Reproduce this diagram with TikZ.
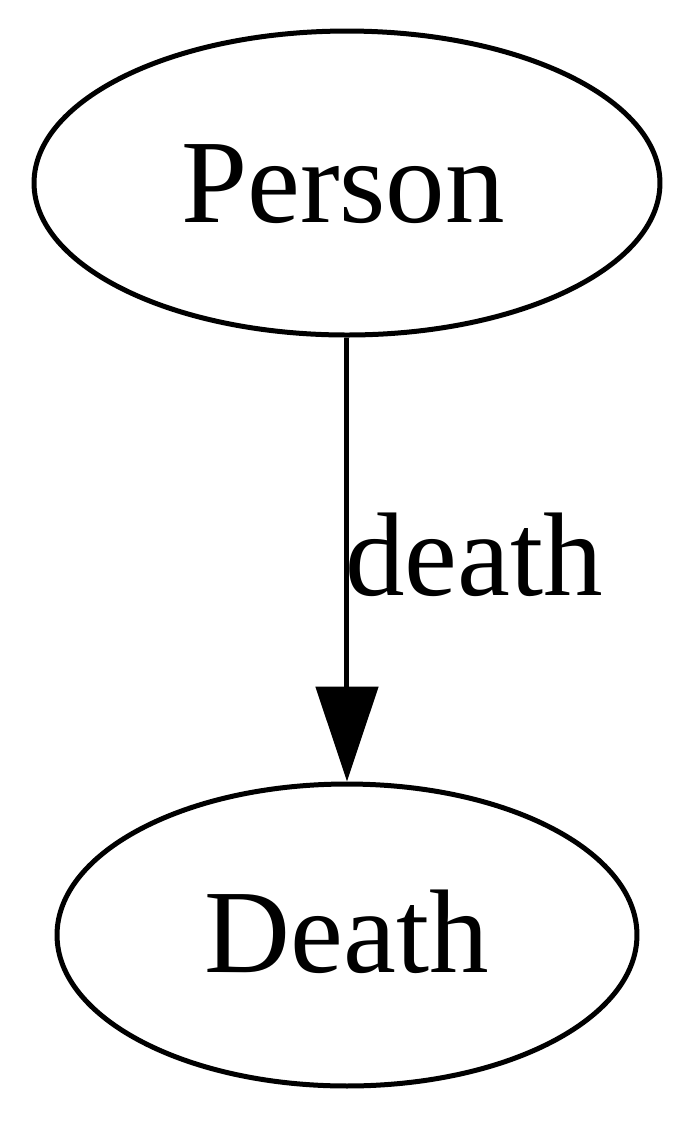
\documentclass[tikz,border=0pt]{standalone}
\usepackage{fontspec}
\setmainfont{Liberation Serif}
\usetikzlibrary{shapes.geometric,arrows.meta}
\begin{document}
\begin{tikzpicture}[x=0.1pt,y=-0.1pt,
  ell/.style={draw, ellipse, line width=0.5pt, inner sep=0pt},
  txt/.style={anchor=base, inner sep=0pt, font=\fontsize{11.9}{14}\selectfont},
  edge/.style={line width=0.5pt, -{Triangle[length=9.5pt,width=6.2pt]}}]
\useasboundingbox (0,0) rectangle (700,1122);
\node[ell, minimum width=62.6pt, minimum height=30.4pt] (person) at (347,183) {};
\node[txt] (persontxt) at (343,222) {Person};
\node[ell, minimum width=58pt, minimum height=30.2pt] (death) at (347,935) {};
\node[txt] (deathtxt) at (347,972) {Death};
\draw[edge] (person) -- (death);
\node[txt] (lbl) at (474,595) {death};
\end{tikzpicture}
\end{document}
